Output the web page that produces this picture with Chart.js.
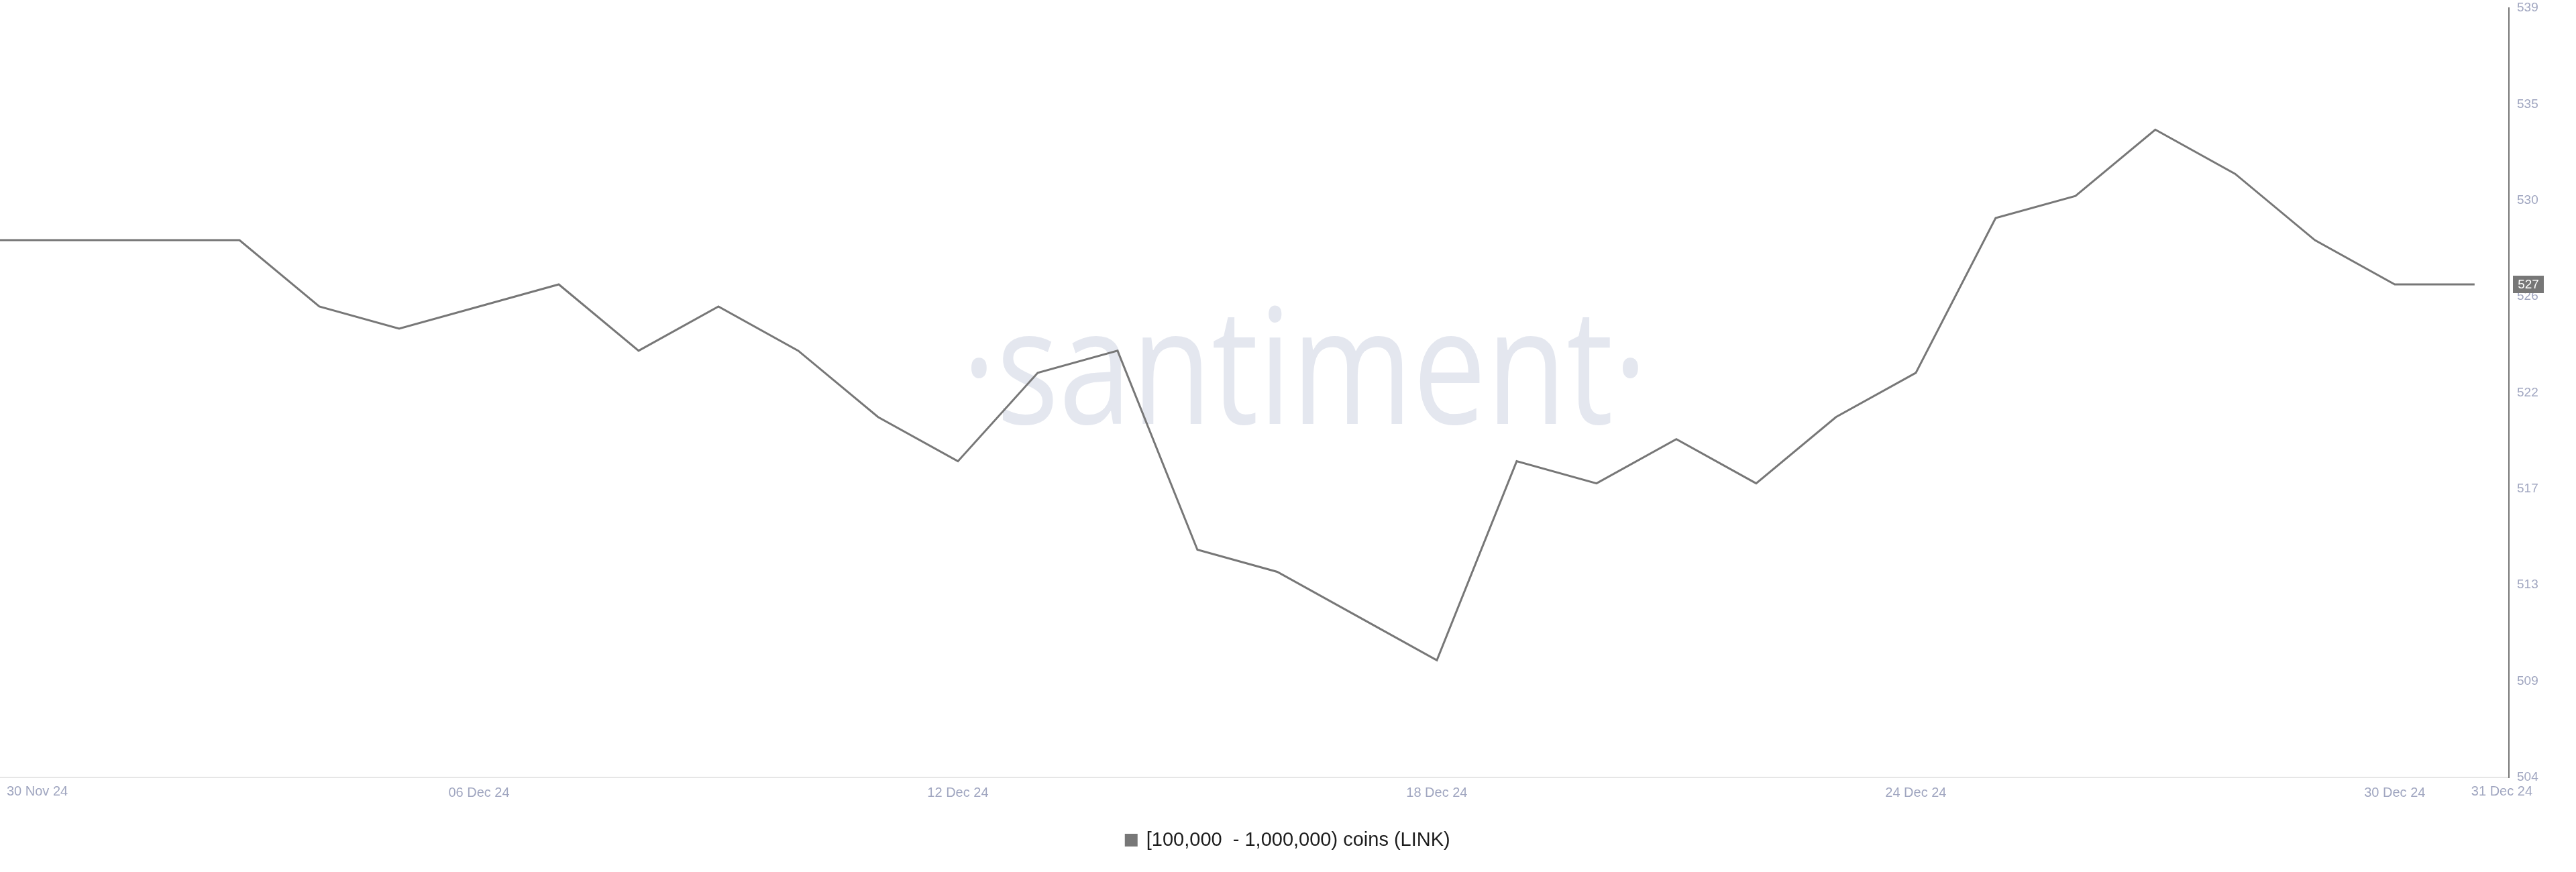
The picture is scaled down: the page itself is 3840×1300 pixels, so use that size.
<!DOCTYPE html>
<html>
<head>
<meta charset="utf-8">
<script src="https://cdn.jsdelivr.net/npm/chart.js@4.4.0/dist/chart.umd.min.js"></script>
<style>
  html, body { margin: 0; padding: 0; background: #fff; }
  #wrap { width: 3840px; height: 1300px; }
</style>
</head>
<body>
<div id="wrap"><canvas id="chart" width="3840" height="1300"></canvas></div>
<script>
// daily points, 30 Nov 24 .. 31 Dec 24
const dates = [
  '30 Nov 24', '01 Dec 24', '02 Dec 24', '03 Dec 24', '04 Dec 24', '05 Dec 24', '06 Dec 24', '07 Dec 24',
  '08 Dec 24', '09 Dec 24', '10 Dec 24', '11 Dec 24', '12 Dec 24', '13 Dec 24', '14 Dec 24', '15 Dec 24',
  '16 Dec 24', '17 Dec 24', '18 Dec 24', '19 Dec 24', '20 Dec 24', '21 Dec 24', '22 Dec 24', '23 Dec 24',
  '24 Dec 24', '25 Dec 24', '26 Dec 24', '27 Dec 24', '28 Dec 24', '29 Dec 24', '30 Dec 24', '31 Dec 24'
];
const holders = [
  529, 529, 529, 529, 526, 525, 526, 527,
  524, 526, 524, 521, 519, 523, 524, 515,
  514, 512, 510, 519, 518, 520, 518, 521,
  523, 530, 531, 534, 532, 529, 527, 527
];
const xTickDates = ['30 Nov 24', '06 Dec 24', '12 Dec 24', '18 Dec 24', '24 Dec 24', '30 Dec 24', '31 Dec 24'];
const yTickLabels = ['504', '509', '513', '517', '522', '526', '530', '535', '539'];
const yMin = 504.7;
const yMax = 539.5;
const seriesName = '[100,000  - 1,000,000) coins (LINK)';

const FONT = '"Liberation Sans", Arial, sans-serif';
const TICK_COLOR = '#a0a6c0';
const LINE_COLOR = '#777777';

// faint brand mark behind the line
const watermark = {
  id: 'watermark',
  beforeDatasetsDraw(chart) {
    const ctx = chart.ctx;
    ctx.save();
    ctx.translate(1945, 632);
    ctx.scale(0.81, 1);
    ctx.font = '241px "Open Sans"';
    ctx.fillStyle = '#e4e7ef';
    ctx.textAlign = 'center';
    ctx.textBaseline = 'alphabetic';
    ctx.fillText('\u00B7santiment\u00B7', 0, 0);
    ctx.restore();
  }
};

// first / last date labels sit left-aligned at their ticks
const edgeLabels = {
  id: 'edgeLabels',
  afterDraw(chart) {
    const ctx = chart.ctx;
    const xs = chart.scales.x;
    const first = dates.indexOf(xTickDates[0]);
    const last = dates.indexOf(xTickDates[xTickDates.length - 1]);
    ctx.save();
    ctx.font = '20px ' + FONT;
    ctx.fillStyle = TICK_COLOR;
    ctx.textAlign = 'left';
    ctx.textBaseline = 'middle';
    ctx.fillText(dates[first], xs.getPixelForValue(first) + 10, xs.top + 21);
    ctx.fillText(dates[last], xs.getPixelForValue(last) - 5, xs.top + 21);
    ctx.restore();
  }
};

// last value tag on the right axis
const lastTag = {
  id: 'lastTag',
  afterDraw(chart) {
    const ctx = chart.ctx;
    const ys = chart.scales.y;
    const v = holders[holders.length - 1];
    const y = ys.getPixelForValue(v);
    ctx.save();
    ctx.fillStyle = LINE_COLOR;
    ctx.fillRect(ys.left + 6, y - 13, 46, 26);
    ctx.fillStyle = '#ffffff';
    ctx.font = '19px ' + FONT;
    ctx.textAlign = 'center';
    ctx.textBaseline = 'middle';
    ctx.fillText(String(Math.round(v)), ys.left + 29, y + 1);
    ctx.restore();
  }
};

new Chart(document.getElementById('chart'), {
  type: 'line',
  data: {
    datasets: [{
      label: seriesName,
      data: holders.map((v, i) => ({ x: i, y: v })),
      borderColor: LINE_COLOR,
      backgroundColor: LINE_COLOR,
      borderWidth: 3,
      pointRadius: 0,
      tension: 0,
      fill: false
    }]
  },
  options: {
    responsive: false,
    devicePixelRatio: 1,
    animation: false,
    layout: { autoPadding: false, padding: { top: 12, left: 0, right: 0, bottom: 23 } },
    plugins: {
      tooltip: { enabled: false },
      legend: {
        position: 'bottom',
        labels: {
          boxWidth: 16,
          boxHeight: 16,
          color: '#1d1d1d',
          padding: 10,
          font: { family: FONT, size: 29 }
        }
      }
    },
    scales: {
      x: {
        type: 'linear',
        min: 0,
        max: 31.43,
        grid: { display: false, drawTicks: false },
        border: { display: true, color: '#e6e6e6', width: 2 },
        afterBuildTicks: (scale) => {
          scale.ticks = xTickDates.map(d => ({ value: dates.indexOf(d) }));
        },
        afterFit: (scale) => {
          scale.height = 69;
          scale.paddingLeft = 0;
          scale.paddingRight = 0;
        },
        ticks: {
          autoSkip: false,
          maxRotation: 0,
          padding: 11,
          color: TICK_COLOR,
          font: { family: FONT, size: 20 },
          callback: (value, i) => (i === 0 || i === xTickDates.length - 1) ? '' : dates[value]
        }
      },
      y: {
        position: 'right',
        min: yMin,
        max: yMax,
        grid: { display: false, drawTicks: false },
        border: { display: true, color: LINE_COLOR, width: 2 },
        afterFit: (scale) => {
          scale.width = 100;
          scale.paddingTop = 0;
          scale.paddingBottom = 0;
        },
        ticks: {
          count: yTickLabels.length,
          padding: 12,
          color: TICK_COLOR,
          font: { family: FONT, size: 19 },
          callback: (value, i) => yTickLabels[i]
        }
      }
    }
  },
  plugins: [watermark, edgeLabels, lastTag]
});
</script>
</body>
</html>
